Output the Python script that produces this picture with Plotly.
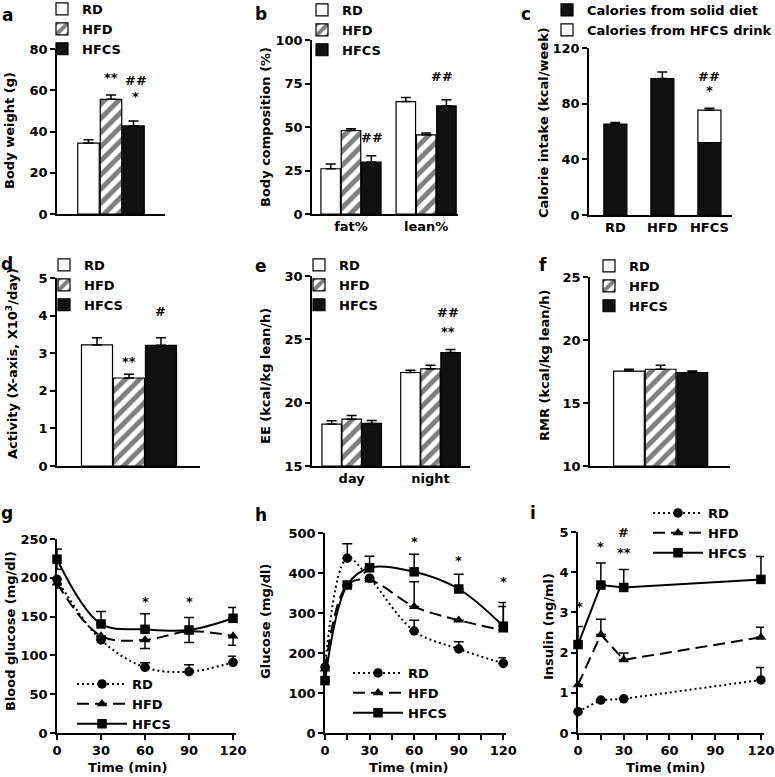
import plotly.graph_objects as go

W, H = 775, 777
FONT = "DejaVu Sans"

# ---------------- data ----------------
groups = ["RD", "HFD", "HFCS"]

# a: body weight (g)
bw_vals = [34.4, 55.6, 42.7]
bw_err = [1.6, 2.1, 2.4]

# b: body composition (%)
comp_cats = ["fat%", "lean%"]
comp_vals = {"RD": [26.0, 64.6], "HFD": [48.0, 45.5], "HFCS": [29.8, 62.1]}
comp_err = {"RD": [2.7, 2.3], "HFD": [1.0, 1.0], "HFCS": [3.7, 3.5]}

# c: calorie intake (kcal/week)
cal_cats = ["RD", "HFD", "HFCS"]
cal_solid = [65.3, 98.0, 52.1]
cal_solid_err = [1.2, 4.8, 3.8]
cal_drink = [0.0, 0.0, 23.2]
cal_drink_err = [0.0, 0.0, 1.4]

# d: activity (X10^3/day)
act_vals = [3.22, 2.34, 3.21]
act_err = [0.19, 0.10, 0.20]

# e: EE (kcal/kg lean/h)
ee_cats = ["day", "night"]
ee_vals = {"RD": [18.31, 22.38], "HFD": [18.70, 22.67], "HFCS": [18.36, 23.96]}
ee_err = {"RD": [0.26, 0.18], "HFD": [0.29, 0.29], "HFCS": [0.24, 0.23]}

# f: RMR (kcal/kg lean/h)
rmr_vals = [17.53, 17.68, 17.42]
rmr_err = [0.15, 0.32, 0.11]

# g: blood glucose (ITT)
g_time = [0, 30, 60, 90, 120]
g_vals = {"RD": [198, 120, 84.6, 79, 91],
          "HFD": [193, 125, 120, 131, 125],
          "HFCS": [224, 140.5, 133.6, 132.7, 147.8]}
g_err_up = {"RD": [0, 0, 6, 9, 8], "HFD": [0, 0, 0, 0, 0], "HFCS": [13, 16, 20, 16, 14]}
g_err_dn = {"RD": [0, 0, 0, 0, 0], "HFD": [6, 0, 11, 0, 12], "HFCS": [13, 0, 0, 16, 0]}

# h: glucose (GTT)
h_time = [0, 15, 30, 60, 90, 120]
h_vals = {"RD": [165, 437, 387, 255, 210, 174],
          "HFD": [160, 370, 382, 316, 282, 257],
          "HFCS": [131, 370, 413, 403, 360, 267]}
h_err_up = {"RD": [0, 36, 0, 27, 18, 14], "HFD": [0, 0, 0, 62, 0, 59],
            "HFCS": [0, 0, 29, 44, 37, 59]}

# i: insulin
i_time = [0, 15, 30, 120]
i_vals = {"RD": [0.53, 0.82, 0.85, 1.32],
          "HFD": [1.20, 2.45, 1.82, 2.38],
          "HFCS": [2.20, 3.68, 3.62, 3.82]}
i_err_up = {"RD": [0, 0, 0, 0.31], "HFD": [0, 0.38, 0.17, 0.25],
            "HFCS": [0.45, 0.55, 0.45, 0.57]}

# ---------------- styling helpers ----------------
BLACK = "#000000"
DARK = "#111111"


def bar_marker(name):
    if name == "RD":
        return dict(color="white", line=dict(color=BLACK, width=1.2))
    if name == "HFD":
        return dict(color="white", line=dict(color=BLACK, width=1.2),
                    pattern=dict(shape="/", fgcolor=BLACK, bgcolor="white",
                                 size=10, solidity=0.5))
    return dict(color=DARK, line=dict(color=BLACK, width=1.2))


def err(up, dn=None):
    if dn is None:
        dn = [0] * len(up)
    return dict(type="data", symmetric=False, array=up, arrayminus=dn,
                color=BLACK, thickness=1.5, width=5)


def xd(a, b):
    return [a / W, b / W]


def yd(top, bottom):
    return [1 - bottom / H, 1 - top / H]


fig = go.Figure()

# panel geometry: x px, y px (top,bottom), x range, y range, dtick
panels = [
    ("a", (57, 165), (49, 214), [-1.4, 3.4], [0, 80], 20),
    ("b", (312, 458), (40, 214), [-1.92, 5.27], [0, 100], 25),
    ("c", (589, 732), (48, 215), [-0.56, 2.48], [0, 120], 40),
    ("d", (57, 200), (278, 466), [-1.25, 3.22], [0, 5], 1),
    ("e", (312, 470), (276, 466), [-1.98, 5.9], [15, 30], 5),
    ("f", (590, 730), (277, 466), [-1.23, 3.19], [10, 25], 5),
    ("g", (57, 236), (539, 733), [0, 122], [0, 250], 50),
    ("h", (325, 506), (533, 733), [0, 121.8], [0, 500], 100),
    ("i", (578, 764), (532, 733), [0, 122], [0, 5], 1),
]

axis_common = dict(showline=True, linecolor=BLACK, linewidth=1.5, showgrid=False,
                   zeroline=False, tickfont=dict(size=13, family=FONT, weight="bold",
                                                 color=BLACK))
layout_axes = {}
refs = {}
for n, (key, xp, yp, xr, yr, dt) in enumerate(panels, start=1):
    sx = "" if n == 1 else str(n)
    refs[key] = ("x" + sx, "y" + sx, "legend" + sx)
    xa = dict(axis_common, domain=xd(*xp), range=xr, anchor="y" + sx,
              fixedrange=True)
    ya = dict(axis_common, domain=yd(*yp), range=yr, anchor="x" + sx, dtick=dt,
              ticks="outside", ticklen=5, tickwidth=1.5, tickcolor=BLACK,
              fixedrange=True)
    if key in "ghi":
        xa.update(ticks="outside", ticklen=5, tickwidth=1.5, tickcolor=BLACK,
                  tickvals=[0, 30, 60, 90, 120])
        if key in "hi":
            xa["minor"] = dict(dtick=15, ticks="outside", ticklen=5, tickwidth=1.5,
                               tickcolor=BLACK, tick0=0)
    else:
        xa.update(ticks="", showticklabels=False)
    layout_axes["xaxis" + sx] = xa
    layout_axes["yaxis" + sx] = ya

# ---------------- a ----------------
xr_, yr_, lg = refs["a"]
for k, g in enumerate(groups):
    fig.add_trace(go.Bar(x=[k], y=[bw_vals[k]], width=0.955, name=g,
                         marker=bar_marker(g), error_y=err([bw_err[k]]),
                         xaxis=xr_, yaxis=yr_, legend=lg))

# ---------------- b ----------------
xr_, yr_, lg = refs["b"]
GSEP_B = 3.7
for k, g in enumerate(groups):
    xs = [gi * GSEP_B + (k - 1) for gi in range(len(comp_cats))]
    fig.add_trace(go.Bar(x=xs, y=comp_vals[g], width=0.96, name=g,
                         marker=bar_marker(g), error_y=err(comp_err[g]),
                         xaxis=xr_, yaxis=yr_, legend=lg))
layout_axes["xaxis2"].update(showticklabels=True,
                             tickvals=[gi * GSEP_B for gi in range(len(comp_cats))],
                             ticktext=comp_cats)

# ---------------- c ----------------
xr_, yr_, lg = refs["c"]
xs_c = list(range(len(cal_cats)))
fig.add_trace(go.Bar(x=xs_c, y=cal_solid, width=0.49, name="Calories from solid diet",
                     marker=dict(color=DARK, line=dict(color=BLACK, width=1.2)),
                     error_y=err(cal_solid_err), xaxis=xr_, yaxis=yr_, legend=lg))
fig.add_trace(go.Bar(x=xs_c[2:], y=cal_drink[2:], base=cal_solid[2:], width=0.49,
                     name="Calories from HFCS drink",
                     marker=dict(color="white", line=dict(color=BLACK, width=1.2)),
                     error_y=err(cal_drink_err[2:]), xaxis=xr_, yaxis=yr_, legend=lg))
layout_axes["xaxis3"].update(showticklabels=True, tickvals=xs_c, ticktext=cal_cats)

# ---------------- d ----------------
xr_, yr_, lg = refs["d"]
for k, g in enumerate(groups):
    fig.add_trace(go.Bar(x=[k], y=[act_vals[k]], width=0.97, name=g,
                         marker=bar_marker(g), error_y=err([act_err[k]]),
                         xaxis=xr_, yaxis=yr_, legend=lg))

# ---------------- e ----------------
xr_, yr_, lg = refs["e"]
GSEP_E = 3.93
for k, g in enumerate(groups):
    xs = [gi * GSEP_E + (k - 1) for gi in range(len(ee_cats))]
    fig.add_trace(go.Bar(x=xs, y=[v - 15 for v in ee_vals[g]], base=15, width=0.97,
                         name=g, marker=bar_marker(g), error_y=err(ee_err[g]),
                         xaxis=xr_, yaxis=yr_, legend=lg))
layout_axes["xaxis5"].update(showticklabels=True,
                             tickvals=[gi * GSEP_E for gi in range(len(ee_cats))],
                             ticktext=ee_cats)

# ---------------- f ----------------
xr_, yr_, lg = refs["f"]
for k, g in enumerate(groups):
    fig.add_trace(go.Bar(x=[k], y=[rmr_vals[k] - 10], base=10, width=0.97, name=g,
                         marker=bar_marker(g), error_y=err([rmr_err[k]]),
                         xaxis=xr_, yaxis=yr_, legend=lg))

# ---------------- line panels ----------------
line_style = {
    "RD": dict(dash="2px,3px", symbol="circle"),
    "HFD": dict(dash="12px,6px", symbol="triangle-up"),
    "HFCS": dict(dash="solid", symbol="square"),
}


def add_lines(key, times, vals, up, dn=None, shape="spline"):
    xr_, yr_, lg = refs[key]
    for g in groups:
        st = line_style[g]
        fig.add_trace(go.Scatter(
            x=times, y=vals[g], name=g, mode="lines+markers",
            line=dict(color=BLACK, width=2, dash=st["dash"], shape=shape,
                      smoothing=1.0),
            marker=dict(symbol=st["symbol"], size=9.5, color=BLACK),
            error_y=err(up[g], None if dn is None else dn[g]),
            cliponaxis=False, xaxis=xr_, yaxis=yr_, legend=lg))


add_lines("g", g_time, g_vals, g_err_up, g_err_dn)
add_lines("h", h_time, h_vals, h_err_up)
add_lines("i", i_time, i_vals, i_err_up, shape="linear")

# ---------------- legends ----------------
legend_pos = {  # key: (left px, top px, itemwidth)
    "a": (42, -6, 30), "b": (302, -5, 30), "c": (547, -5, 30),
    "d": (44, 250, 30), "e": (299, 250, 30), "f": (589, 251, 30),
    "g": (72, 669, 50), "h": (348, 658, 50), "i": (648, 498, 50),
}
legends = {}
for key, (lx, ly, iw) in legend_pos.items():
    lg = refs[key][2]
    legends[lg] = dict(x=lx / W, y=1 - ly / H, xanchor="left", yanchor="top",
                       bgcolor="rgba(0,0,0,0)", borderwidth=0, tracegroupgap=0,
                       itemwidth=iw, itemclick=False, itemdoubleclick=False,
                       font=dict(size=13, family=FONT, weight="bold", color=BLACK))

# ---------------- annotations ----------------
ann = []


def txt(key, x, y, s, size=13):
    xr_, yr_, _ = refs[key]
    ann.append(dict(x=x, y=y, xref=xr_, yref=yr_, text=s, showarrow=False,
                    font=dict(size=size, family=FONT, color=BLACK)))


txt("a", 1, 66, "**"); txt("a", 2.1, 64.5, "##"); txt("a", 2.1, 57, "*")
txt("b", 1.05, 44, "##"); txt("b", GSEP_B + 0.8, 79, "##")
txt("c", 2, 99.5, "##"); txt("c", 2, 89.5, "*")
txt("d", 1, 2.77, "**"); txt("d", 2, 4.1, "#")
txt("e", GSEP_E + 0.85, 27.1, "##"); txt("e", GSEP_E + 0.85, 25.6, "**")
txt("g", 60, 170, "*"); txt("g", 90, 170, "*"); txt("g", 124, 184, "*")
txt("h", 60, 480, "*"); txt("h", 90, 432, "*"); txt("h", 120, 378, "*")
txt("i", 1, 3.14, "*"); txt("i", 15, 4.63, "*"); txt("i", 30, 4.48, "**")
txt("i", 30, 4.98, "#")

# panel letters
for key, (px, py) in {"a": (7, 15), "b": (261, 14), "c": (526, 14),
                      "d": (7, 264), "e": (261, 266), "f": (543, 265),
                      "g": (7, 513), "h": (261, 515), "i": (533, 513)}.items():
    ann.append(dict(x=px / W, y=1 - py / H, xref="paper", yref="paper", text=key,
                    showarrow=False, xanchor="center", yanchor="middle",
                    font=dict(size=17, family=FONT, weight="bold", color=BLACK)))

# axis titles
ytitles = [
    ("Body weight (g)", 10, 131), ("Body composition (%)", 265, 127),
    ("Calorie intake (kcal/week)", 543, 123),
    ("Activity (X-axis, X10<sup>3</sup>/day)", 12, 364),
    ("EE (kcal/kg lean/h)", 265, 376), ("RMR (kcal/kg lean/h)", 545, 366),
    ("Blood glucose (mg/dl)", 10, 631), ("Glucose (mg/dl)", 265, 622),
    ("Insulin (ng/ml)", 548, 627),
]
for s, px, py in ytitles:
    ann.append(dict(x=px / W, y=1 - py / H, xref="paper", yref="paper", text=s,
                    textangle=-90, showarrow=False, xanchor="center", yanchor="middle",
                    font=dict(size=13, family=FONT, weight="bold", color=BLACK)))
for px in (127, 408, 665):
    ann.append(dict(x=px / W, y=1 - 767 / H, xref="paper", yref="paper",
                    text="Time (min)", showarrow=False, xanchor="center",
                    yanchor="middle",
                    font=dict(size=13, family=FONT, weight="bold", color=BLACK)))

fig.update_layout(
    width=W, height=H, margin=dict(l=0, r=0, t=0, b=0, autoexpand=False),
    paper_bgcolor="white", plot_bgcolor="white", barmode="overlay",
    font=dict(family=FONT, size=13, color=BLACK, weight="bold"),
    annotations=ann, showlegend=True, **layout_axes, **legends,
)

fig.write_html(
    "out.html",
    config={"displayModeBar": False},
    post_script="document.body.style.margin='0';document.body.style.padding='0';"
                "document.body.style.overflow='hidden';"
                "document.documentElement.style.overflow='hidden';",
)
